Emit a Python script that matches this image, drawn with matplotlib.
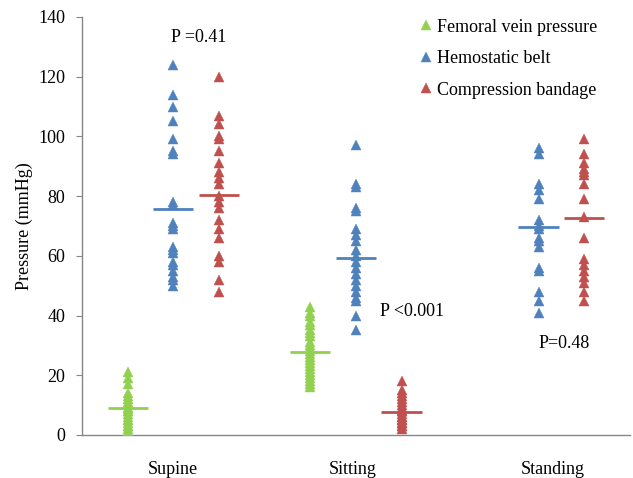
import matplotlib
matplotlib.use("Agg")
import matplotlib.pyplot as plt
import numpy as np

plt.rcParams['font.family'] = ['Liberation Serif', 'DejaVu Serif']

categories = ["Supine", "Sitting", "Standing"]
series_names = ["Femoral vein pressure", "Hemostatic belt", "Compression bandage"]
colors = ["#92D050", "#4F81BD", "#C0504D"]

femoral = {
    "Supine": [21, 19, 17, 14, 13, 12, 11, 10, 9, 9, 8, 8, 7, 6, 5, 5, 4, 3, 3, 2, 1],
    "Sitting": [43, 41, 40, 38, 37, 35, 34, 33, 31, 30, 29, 28, 27, 26, 25, 24, 23, 22, 21, 20, 19, 18, 17, 16],
}
belt = {
    "Supine": [124, 114, 110, 105, 99, 95, 94, 78, 77, 71, 70, 69, 63, 62, 61, 58, 57, 55, 53, 52, 50],
    "Sitting": [97, 84, 83, 76, 75, 69, 67, 65, 62, 60, 58, 56, 54, 52, 50, 48, 46, 45, 40, 35],
    "Standing": [96, 94, 84, 82, 79, 72, 70, 69, 66, 65, 63, 56, 55, 48, 45, 41],
}
bandage = {
    "Supine": [120, 107, 104, 100, 99, 95, 91, 88, 86, 84, 80, 78, 76, 72, 69, 66, 60, 58, 52, 48],
    "Sitting": [18, 15, 14, 13, 12, 11, 10, 9, 8, 8, 7, 6, 6, 5, 5, 4, 4, 3, 3, 2],
    "Standing": [99, 94, 91, 89, 88, 87, 84, 79, 73, 66, 59, 57, 55, 53, 51, 48, 45],
}
femoral_mean = {"Supine": 8.9, "Sitting": 27.7}
belt_mean = {"Supine": 75.6, "Sitting": 59.4, "Standing": 69.5}
bandage_mean = {"Supine": 80.3, "Sitting": 7.8, "Standing": 72.8}

label_pos = [1.0, 1.98, 3.08]
p_labels = ["P =0.41", "P <0.001", "P=0.48"]
p_pos = [(1.14, 133), (2.31, 41.5), (3.14, 30.5)]

fig = plt.figure(figsize=(6.33, 4.78), dpi=100)
ax = fig.add_axes([0.1295, 0.090, 0.8655, 0.8745])

groups = [(femoral, femoral_mean), (belt, belt_mean), (bandage, bandage_mean)]
offsets = [-0.25, 0.0, 0.25]
for (vals, means), off, col, name in zip(groups, offsets, colors, series_names):
    first = True
    for ci, cat in enumerate(categories):
        if cat not in vals:
            continue
        x = ci + 1 + off
        v = np.array(vals[cat])
        ax.plot(np.full(len(v), x), v, linestyle='none', marker='^', ms=7.5,
                mec=col, mfc=col, mew=0.3, color=col,
                label=name if first else None, zorder=3)
        first = False
        ax.hlines(means[cat], x - 0.11, x + 0.11, colors=col, lw=2, zorder=4)

for lab, (px, py) in zip(p_labels, p_pos):
    ax.text(px, py, lab, ha='center', va='center', fontsize=13, color='black')

ax.set_xlim(0.5, 3.5)
ax.set_ylim(0, 140)
ax.set_yticks(np.arange(0, 141, 20))
ax.set_xticks(label_pos)
ax.set_xticklabels(categories)
ax.tick_params(axis='x', length=0, labelsize=13, pad=19)
ax.tick_params(axis='y', length=4, direction='out', labelsize=13, color='#868686', pad=8)
for sp in ['top', 'right']:
    ax.spines[sp].set_visible(False)
for sp in ['left', 'bottom']:
    ax.spines[sp].set_color('#868686')
    ax.spines[sp].set_linewidth(1.0)
ax.set_ylabel("Pressure (mmHg)", fontsize=13, labelpad=4)

ax.legend(loc='upper left', bbox_to_anchor=(0.602, 1.013), frameon=False,
          fontsize=13, handlelength=0.8, handletextpad=0.2, labelspacing=0.8,
          borderaxespad=0)

fig.savefig("out.png", dpi=100)
